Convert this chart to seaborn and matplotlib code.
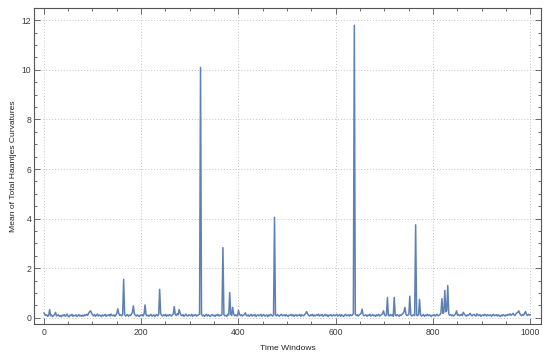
import numpy as np
import pandas as pd
import matplotlib
matplotlib.use("Agg")
import matplotlib.pyplot as plt
from matplotlib.ticker import MultipleLocator
import seaborn as sns

# Time windows 0..1000 sampled every 2 windows
windows = np.arange(0, 1001, 2)

# Mean of total Haantjes curvatures per window
curvature = [
    0.20, 0.14, 0.09, 0.12, 0.06, 0.10, 0.33, 0.08, 0.11, 0.05, 0.09, 0.13, 0.22, 0.07, 0.10, 0.12, 0.06, 0.09, 0.04, 0.11,
    0.08, 0.13, 0.06, 0.10, 0.15, 0.07, 0.04, 0.11, 0.09, 0.14, 0.06, 0.10, 0.08, 0.12, 0.05, 0.09, 0.13, 0.07, 0.10, 0.06,
    0.11, 0.07, 0.12, 0.09, 0.14, 0.10, 0.18, 0.24, 0.28, 0.20, 0.12, 0.08, 0.13, 0.06, 0.10, 0.15, 0.07, 0.11, 0.09, 0.05,
    0.12, 0.08, 0.10, 0.14, 0.06, 0.11, 0.09, 0.13, 0.07, 0.15, 0.10, 0.08, 0.12, 0.06, 0.11, 0.18, 0.36, 0.17, 0.09, 0.12,
    0.08, 0.14, 1.55, 0.12, 0.07, 0.10, 0.13, 0.06, 0.11, 0.09, 0.15, 0.22, 0.48, 0.16, 0.10, 0.07, 0.12, 0.09, 0.05, 0.11,
    0.09, 0.13, 0.07, 0.16, 0.52, 0.12, 0.08, 0.11, 0.06, 0.10, 0.14, 0.07, 0.09, 0.12, 0.05, 0.10, 0.13, 0.08, 0.14, 1.15,
    0.18, 0.10, 0.07, 0.12, 0.09, 0.14, 0.06, 0.11, 0.08, 0.13, 0.10, 0.07, 0.12, 0.15, 0.45, 0.14, 0.09, 0.16, 0.12, 0.33,
    0.20, 0.11, 0.08, 0.13, 0.06, 0.10, 0.15, 0.09, 0.07, 0.12, 0.10, 0.08, 0.14, 0.06, 0.11, 0.09, 0.13, 0.07, 0.10, 0.12,
    0.14, 10.1, 0.13, 0.08, 0.11, 0.06, 0.10, 0.14, 0.07, 0.12, 0.09, 0.05, 0.11, 0.13, 0.08, 0.10, 0.06, 0.12, 0.09, 0.14,
    0.07, 0.11, 0.09, 0.13, 2.83, 0.12, 0.08, 0.10, 0.06, 0.14, 0.11, 1.02, 0.15, 0.09, 0.42, 0.16, 0.08, 0.12, 0.10, 0.07,
    0.30, 0.14, 0.09, 0.12, 0.07, 0.11, 0.13, 0.20, 0.10, 0.08, 0.12, 0.06, 0.10, 0.14, 0.07, 0.11, 0.09, 0.13, 0.05, 0.10,
    0.12, 0.08, 0.11, 0.14, 0.06, 0.10, 0.13, 0.07, 0.09, 0.12, 0.05, 0.11, 0.08, 0.14, 0.10, 0.07, 0.12, 4.05, 0.11, 0.08,
    0.13, 0.09, 0.06, 0.11, 0.14, 0.08, 0.10, 0.12, 0.07, 0.13, 0.09, 0.05, 0.11, 0.10, 0.14, 0.08, 0.12, 0.06, 0.10, 0.13,
    0.07, 0.11, 0.09, 0.14, 0.06, 0.12, 0.10, 0.08, 0.13, 0.18, 0.25, 0.16, 0.10, 0.07, 0.12, 0.09, 0.14, 0.06, 0.11, 0.08,
    0.12, 0.10, 0.15, 0.07, 0.11, 0.09, 0.13, 0.06, 0.10, 0.14, 0.08, 0.12, 0.05, 0.11, 0.09, 0.13, 0.07, 0.10, 0.12, 0.08,
    0.11, 0.14, 0.07, 0.10, 0.13, 0.06, 0.12, 0.09, 0.05, 0.11, 0.14, 0.08, 0.10, 0.12, 0.07, 0.13, 0.09, 0.11, 0.16, 11.8,
    0.15, 0.09, 0.12, 0.07, 0.11, 0.14, 0.18, 0.35, 0.13, 0.08, 0.10, 0.12, 0.06, 0.11, 0.09, 0.14, 0.07, 0.10, 0.13, 0.08,
    0.11, 0.06, 0.12, 0.09, 0.14, 0.07, 0.10, 0.13, 0.17, 0.28, 0.12, 0.08, 0.11, 0.82, 0.10, 0.07, 0.13, 0.09, 0.12, 0.06,
    0.82, 0.11, 0.08, 0.13, 0.10, 0.06, 0.12, 0.09, 0.14, 0.18, 0.24, 0.42, 0.15, 0.09, 0.11, 0.13, 0.87, 0.12, 0.07, 0.10,
    0.13, 0.09, 3.75, 0.11, 0.08, 0.14, 0.74, 0.12, 0.07, 0.10, 0.13, 0.06, 0.11, 0.09, 0.14, 0.08, 0.12, 0.10, 0.05, 0.11,
    0.09, 0.13, 0.07, 0.11, 0.14, 0.08, 0.10, 0.12, 0.20, 0.77, 0.18, 0.22, 1.10, 0.25, 0.30, 1.30, 0.16, 0.10, 0.13, 0.08,
    0.11, 0.07, 0.12, 0.16, 0.28, 0.10, 0.13, 0.08, 0.11, 0.14, 0.09, 0.22, 0.15, 0.10, 0.07, 0.12, 0.09, 0.13, 0.18, 0.11,
    0.08, 0.12, 0.14, 0.10, 0.07, 0.16, 0.11, 0.09, 0.13, 0.06, 0.10, 0.12, 0.08, 0.14, 0.11, 0.07, 0.13, 0.09, 0.10, 0.12,
    0.06, 0.11, 0.14, 0.08, 0.10, 0.13, 0.07, 0.12, 0.09, 0.05, 0.11, 0.08, 0.13, 0.10, 0.07, 0.12, 0.09, 0.14, 0.11, 0.16,
    0.10, 0.13, 0.18, 0.12, 0.09, 0.15, 0.20, 0.22, 0.28, 0.17, 0.11, 0.08, 0.13, 0.10, 0.19, 0.25, 0.12, 0.09, 0.14, 0.11,
    0.13,
]

x_ticks = [0, 200, 400, 600, 800, 1000]
y_ticks = [0, 2, 4, 6, 8, 10, 12]

df = pd.DataFrame({"window": windows, "curvature": curvature})

sns.set_style("ticks")
plt.rcParams["font.family"] = ["Liberation Sans", "DejaVu Sans"]

frame_col = "#555555"
text_col = "#3a3a3a"

fig = plt.figure(figsize=(5.5, 3.58), dpi=100)
ax = fig.add_axes([0.062, 0.095, 0.922, 0.883])

sns.lineplot(data=df, x="window", y="curvature", ax=ax,
             color="#5E81B5", linewidth=1.1, estimator=None)

ax.set_xlim(-20, 1022)
ax.set_ylim(-0.25, 12.5)
ax.set_xticks(x_ticks)
ax.set_yticks(y_ticks)
ax.xaxis.set_minor_locator(MultipleLocator(50))
ax.yaxis.set_minor_locator(MultipleLocator(0.5))

ax.grid(True, which="major", linestyle=(0, (1, 2)), color="#c4c4c4", linewidth=0.7)
ax.set_axisbelow(True)

for side in ["left", "right", "top", "bottom"]:
    ax.spines[side].set_visible(True)
    ax.spines[side].set_color(frame_col)
    ax.spines[side].set_linewidth(0.8)

ax.tick_params(which="both", direction="in", top=True, right=True,
               color=frame_col, labelcolor=text_col, labelsize=6.2, width=0.6)
ax.tick_params(which="major", length=4)
ax.tick_params(which="minor", length=2)
ax.tick_params(axis="x", which="major", pad=3)
ax.tick_params(axis="y", which="major", pad=2)

ax.set_xlabel("Time Windows", fontsize=6.1, color="#222222", labelpad=6)
ax.set_ylabel("Mean of Total Haantjes Curvatures", fontsize=6.1, color="#222222", labelpad=3.5)

fig.savefig("out.png", dpi=100)
